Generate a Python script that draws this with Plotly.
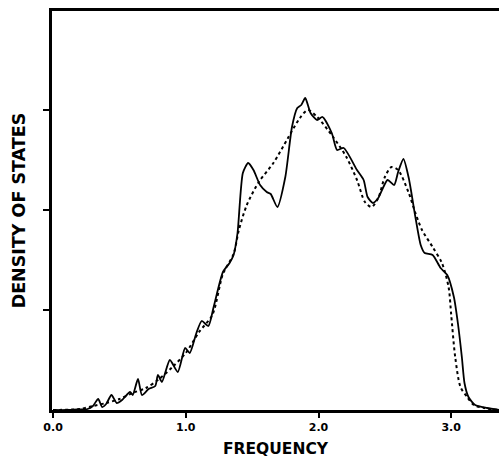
import plotly.graph_objects as go

# Solid curve (computed density of states)
freq_solid = [0.00, 0.10, 0.18, 0.26, 0.30, 0.34, 0.37, 0.40, 0.44, 0.48, 0.52, 0.58, 0.60, 0.64,
              0.67, 0.72, 0.77, 0.79, 0.82, 0.88, 0.94, 0.995, 1.03, 1.08, 1.12, 1.17, 1.21, 1.28,
              1.33, 1.36, 1.39, 1.43, 1.47, 1.51, 1.56, 1.61, 1.64, 1.69, 1.75, 1.80, 1.84, 1.87,
              1.90, 1.94, 1.99, 2.03, 2.10, 2.14, 2.19, 2.29, 2.34, 2.37, 2.41, 2.45, 2.52, 2.57,
              2.60, 2.64, 2.68, 2.73, 2.77, 2.80, 2.86, 2.92, 2.97, 3.02, 3.05, 3.08, 3.10, 3.13,
              3.18, 3.27, 3.36]
dos_solid = [0.0, 0.0, 0.005, 0.01, 0.04, 0.11, 0.03, 0.06, 0.15, 0.07, 0.10, 0.18, 0.15, 0.31,
             0.15, 0.21, 0.24, 0.35, 0.28, 0.50, 0.38, 0.62, 0.57, 0.77, 0.89, 0.84, 1.03, 1.38,
             1.47, 1.55, 1.77, 2.37, 2.47, 2.40, 2.25, 2.18, 2.16, 2.03, 2.33, 2.83, 3.02, 3.05,
             3.12, 2.97, 2.90, 2.93, 2.77, 2.60, 2.62, 2.40, 2.30, 2.13, 2.07, 2.12, 2.30, 2.25,
             2.38, 2.51, 2.32, 1.93, 1.65, 1.57, 1.55, 1.42, 1.35, 1.13, 0.87, 0.53, 0.27, 0.13,
             0.05, 0.02, 0.0]

# Dotted curve (smoothed density of states)
freq_dot = [0.00, 0.20, 0.30, 0.40, 0.50, 0.60, 0.70, 0.80, 0.90, 1.00, 1.10, 1.20, 1.28, 1.36,
            1.40, 1.46, 1.55, 1.66, 1.77, 1.86, 1.92, 1.99, 2.11, 2.21, 2.29, 2.35, 2.40, 2.45,
            2.50, 2.55, 2.60, 2.68, 2.73, 2.78, 2.86, 2.93, 2.98, 3.00, 3.03, 3.07, 3.12, 3.17,
            3.25, 3.36]
dos_dot = [0.0, 0.01, 0.04, 0.07, 0.11, 0.17, 0.22, 0.31, 0.43, 0.57, 0.78, 0.95, 1.36, 1.56,
           1.80, 2.05, 2.28, 2.47, 2.72, 2.92, 3.00, 2.93, 2.73, 2.53, 2.30, 2.08, 2.03, 2.12,
           2.33, 2.43, 2.40, 2.17, 1.97, 1.80, 1.63, 1.47, 1.23, 0.95, 0.53, 0.23, 0.13, 0.05,
           0.02, 0.0]

x_ticks = [0, 1, 2, 3]
x_tick_labels = ["0.0", "1.0", "2.0", "3.0"]
y_ticks = [1, 2, 3]

FONT = "DejaVu Sans, Arial, sans-serif"

fig = go.Figure()
fig.add_trace(go.Scatter(x=freq_dot, y=dos_dot, mode="lines",
                         line=dict(color="black", width=2, dash="dot", shape="spline", smoothing=0.8),
                         showlegend=False))
fig.add_trace(go.Scatter(x=freq_solid, y=dos_solid, mode="lines",
                         line=dict(color="black", width=1.8, shape="spline", smoothing=0.6),
                         showlegend=False))

fig.update_layout(
    width=499, height=458,
    margin=dict(l=52, r=0, t=11, b=48, autoexpand=False),
    paper_bgcolor="white", plot_bgcolor="white",
    font=dict(family=FONT, color="black"),
    xaxis=dict(range=[-0.008, 3.36], tickvals=x_ticks, ticktext=x_tick_labels,
               ticks="outside", ticklen=5, tickwidth=1.5, tickcolor="black",
               showline=True, linewidth=2.5, linecolor="black", mirror=True,
               showgrid=False, zeroline=False, automargin=False,
               tickfont=dict(size=11, family=FONT, weight="bold"),
               title=dict(text="<b>FREQUENCY</b>", font=dict(size=15.5, family=FONT), standoff=11)),
    yaxis=dict(range=[0, 3.99], tickvals=y_ticks, showticklabels=False,
               ticks="outside", ticklen=6, tickwidth=1.5, tickcolor="black",
               showline=True, linewidth=2.5, linecolor="black", mirror=False,
               showgrid=False, zeroline=False, automargin=False,
               title=dict(text="<b>DENSITY OF STATES</b>", font=dict(size=17.5, family=FONT), standoff=14)),
)

fig.write_html("out.html", config={"displayModeBar": False},
               post_script="document.body.style.margin='0';document.body.style.overflow='hidden';")
